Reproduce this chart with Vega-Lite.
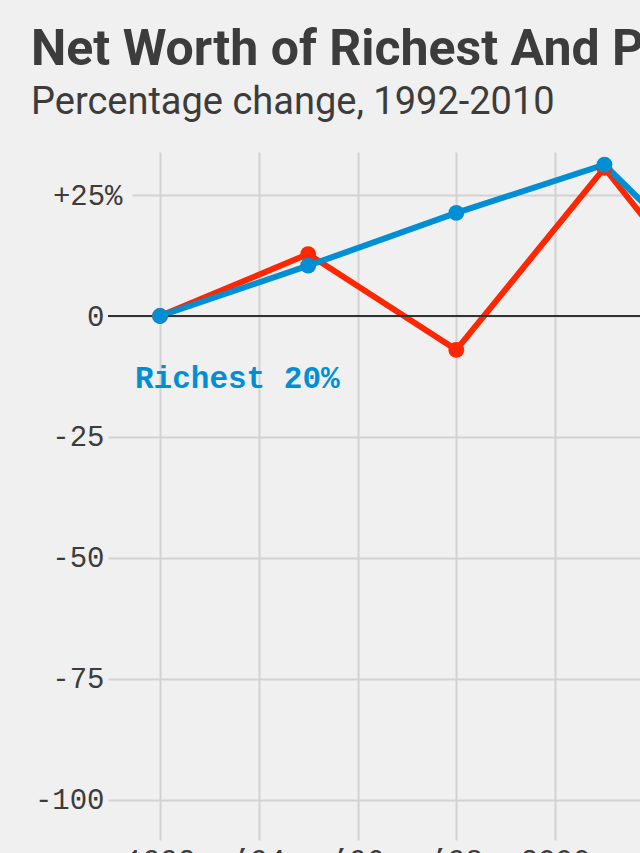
{
  "$schema": "https://vega.github.io/schema/vega-lite/v6.json",
  "autosize": {"type": "none"},
  "width": 532,
  "height": 688,
  "padding": {"left": 108, "top": 152, "right": 0, "bottom": 13},
  "background": "#f0f0f0",
  "title": {
    "text": "Net Worth of Richest And Poorest Americans",
    "subtitle": "Percentage change, 1992-2010",
    "anchor": "start",
    "frame": "group",
    "dx": -77,
    "offset": 30,
    "font": "Roboto",
    "fontSize": 50,
    "fontWeight": "bold",
    "color": "#3c3c3c",
    "subtitleFont": "Roboto",
    "subtitleFontSize": 38,
    "subtitleFontWeight": "normal",
    "subtitleColor": "#3c3c3c",
    "subtitlePadding": 9
  },
  "config": {
    "view": {"stroke": null},
    "axis": {
      "labelFont": "Liberation Mono",
      "labelFontSize": 29,
      "labelColor": "#3c3c3c",
      "gridColor": "#d2d2d2",
      "gridWidth": 2,
      "domain": false,
      "ticks": false,
      "title": null
    }
  },
  "resolve": {"axis": {"y": "independent"}},
  "datasets": {
    "series": [
      {"year": 1992, "value": 0, "group": "Poorest 20%"},
      {"year": 1995, "value": 12.8, "group": "Poorest 20%"},
      {"year": 1998, "value": -7.0, "group": "Poorest 20%"},
      {"year": 2001, "value": 30.6, "group": "Poorest 20%"},
      {"year": 2004, "value": -8, "group": "Poorest 20%"},
      {"year": 1992, "value": 0, "group": "Richest 20%"},
      {"year": 1995, "value": 10.4, "group": "Richest 20%"},
      {"year": 1998, "value": 21.3, "group": "Richest 20%"},
      {"year": 2001, "value": 31.3, "group": "Richest 20%"},
      {"year": 2004, "value": 1, "group": "Richest 20%"}
    ],
    "labels": [
      {"year": 1992, "value": -13, "label": "Richest 20%", "group": "Richest 20%"}
    ]
  },
  "layer": [
    {
      "data": {"name": "series"},
      "mark": {"type": "line", "strokeWidth": 6, "clip": true},
      "encoding": {
        "x": {
          "field": "year", "type": "quantitative",
          "scale": {"domain": [1990.947, 2001.72], "nice": false, "zero": false},
          "axis": {
            "values": [1992, 1994, 1996, 1998, 2000, 2002],
            "labelExpr": "datum.value == 1992 ? '1992' : datum.value == 2000 ? '2000' : '\u2019' + substring(toString(datum.value), 2, 4)",
            "labelPadding": 6,
            "labelBaseline": "top",
            "labelFlush": false,
            "labelOverlap": false
          }
        },
        "y": {
          "field": "value", "type": "quantitative",
          "scale": {"domain": [-108.3, 33.9], "nice": false},
          "axis": {
            "orient": "left",
            "values": [-100, -75, -50, -25, 0, 25],
            "labelExpr": "datum.value == 25 ? '' : datum.value + ''",
            "labelPadding": 4,
            "labelFlush": false,
            "gridDash": {"condition": {"test": "datum.value == 25", "value": [0, 24, 2000]}, "value": [2000, 0]}
          }
        },
        "color": {
          "field": "group", "type": "nominal",
          "scale": {"domain": ["Poorest 20%", "Richest 20%"], "range": ["#ff2700", "#008fd5"]},
          "legend": null
        }
      }
    },
    {
      "data": {"name": "series"},
      "mark": {"type": "rule", "color": "#333333", "strokeWidth": 1.5},
      "encoding": {
        "y": {
          "datum": 0, "type": "quantitative",
          "axis": {
            "orient": "left",
            "values": [25],
            "labelExpr": "'+25%'",
            "labelPadding": -14,
            "grid": false,
            "labelFlush": false
          }
        }
      }
    },
    {
      "data": {"name": "series"},
      "mark": {"type": "circle", "size": 250, "opacity": 1, "clip": true},
      "encoding": {
        "x": {"field": "year", "type": "quantitative"},
        "y": {"field": "value", "type": "quantitative", "axis": null},
        "color": {"field": "group", "type": "nominal", "legend": null}
      }
    },
    {
      "data": {"name": "labels"},
      "mark": {"type": "text", "align": "left", "baseline": "middle", "dx": -25, "font": "Liberation Mono", "fontSize": 31, "fontWeight": "bold"},
      "encoding": {
        "x": {"field": "year", "type": "quantitative"},
        "y": {"field": "value", "type": "quantitative", "axis": null},
        "text": {"field": "label"},
        "color": {"field": "group", "type": "nominal", "legend": null}
      }
    }
  ]
}
